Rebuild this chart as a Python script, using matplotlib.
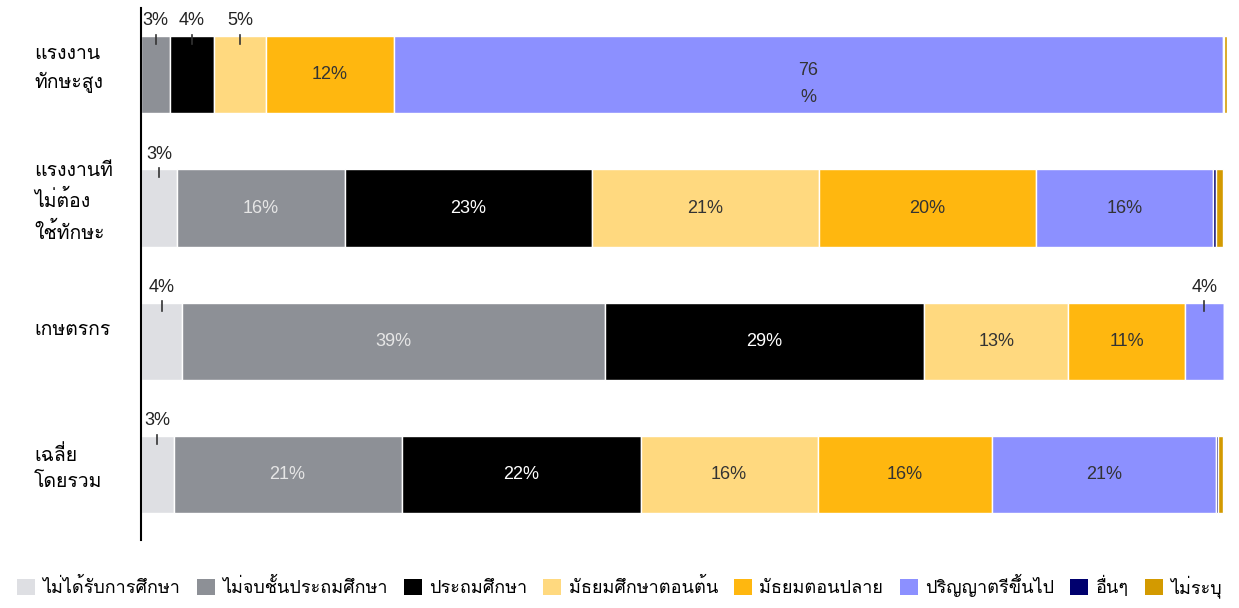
import matplotlib
matplotlib.use("Agg")
import matplotlib.pyplot as plt
from matplotlib import font_manager as fm
from matplotlib.ft2font import FT2Font
from matplotlib.patches import Patch
from matplotlib.transforms import ScaledTranslation

# ---------------- data ----------------
categories = ["แรงงาน\nทักษะสูง", "แรงงานที\nไม่ต้อง\nใช้ทักษะ", "เกษตรกร", "เฉลี่ย\nโดยรวม"]
series_names = ["ไม่ได้รับการศึกษา", "ไม่จบชั้นประถมศึกษา", "ประถมศึกษา", "มัธยมศึกษาตอนต้น",
                "มัธยมตอนปลาย", "ปริญญาตรีขึ้นไป", "อื่นๆ", "ไม่ระบุ"]
no_education = [0.0, 3.3, 3.8, 3.0]
primary_incomplete = [2.7, 15.5, 38.9, 21.0]
primary = [4.0, 22.7, 29.4, 22.0]
lower_secondary = [4.8, 20.9, 13.3, 16.3]
upper_secondary = [11.8, 20.0, 10.7, 16.1]
bachelor_plus = [76.3, 16.3, 3.6, 20.6]
other = [0.1, 0.3, 0.0, 0.2]
unspecified = [0.3, 0.6, 0.0, 0.4]
series_values = [no_education, primary_incomplete, primary, lower_secondary,
                 upper_secondary, bachelor_plus, other, unspecified]

colors = ["#DEDFE3", "#8D9096", "#000000", "#FFD97F", "#FFB70F", "#8C90FF", "#00006E", "#D39A00"]
inside_text_colors = ["#333333", "#E6E6E6", "#FFFFFF", "#333333", "#333333", "#333333", "#FFFFFF", "#333333"]

# ---------------- fonts ----------------
cands = []
for f in fm.fontManager.ttflist:
    try:
        cm = FT2Font(f.fname).get_charmap()
        if 0x0E01 in cm and 0x0E32 in cm:
            cands.append(f.name)
    except Exception:
        pass
thai_font = None
for p in ["Loma", "Tahoma", "Noto Sans Thai Looped", "Noto Sans Thai", "Garuda"]:
    if p in cands:
        thai_font = p
        break
if thai_font is None and cands:
    thai_font = cands[0]
thai_family = ([thai_font] if thai_font else []) + ["DejaVu Sans"]

names = {f.name for f in fm.fontManager.ttflist}
num_family = ["Liberation Sans Narrow"] if "Liberation Sans Narrow" in names else ["Liberation Sans"]

# ---------------- figure ----------------
fig = plt.figure(figsize=(12.39, 6.08), dpi=100)
ax = fig.add_axes([141 / 1239, 1 - 540 / 608, 1086 / 1239, 532 / 608])

y = list(range(len(categories)))
bar_h = 0.58
left = [0.0] * len(categories)
for si, vals in enumerate(series_values):
    ax.barh(y, vals, left=left, height=bar_h, color=colors[si], edgecolor="white",
            linewidth=1.0, label=series_names[si])
    for ci, v in enumerate(vals):
        cx = left[ci] + v / 2
        lab = f"{round(v)}%"
        if v >= 8:
            if v > 60:
                ax.text(cx, y[ci] + 0.07, f"{round(v)}\n%", ha="center", va="center", fontsize=13,
                        color=inside_text_colors[si], family=num_family, linespacing=1.75)
            else:
                ax.text(cx, y[ci], lab, ha="center", va="center", fontsize=13,
                        color=inside_text_colors[si], family=num_family)
        elif v >= 2.5:
            top = y[ci] - bar_h / 2
            ax.plot([cx, cx], [top - 0.01, top + 0.06], color="#333333", lw=1.2)
            ax.text(cx, top - 0.05, lab, ha="center", va="bottom", fontsize=13,
                    color="#222222", family=num_family)
    left = [l + v for l, v in zip(left, vals)]

ax.set_xlim(0, 100)
ax.set_ylim(3.49, -0.5)
for s in ["top", "right", "bottom"]:
    ax.spines[s].set_visible(False)
ax.spines["left"].set_linewidth(1.5)
ax.spines["left"].set_color("#000000")
ax.set_xticks([])
ax.set_yticks(y)
ax.set_yticklabels(categories, family=thai_family, fontsize=14, ha="left", linespacing=1.6)
ax.tick_params(axis="y", length=0, pad=77)
shift = ScaledTranslation(0, 0.13, fig.dpi_scale_trans)
for lbl in ax.get_yticklabels():
    lbl.set_transform(lbl.get_transform() + shift)

handles = [Patch(facecolor=c, edgecolor="none") for c in colors]
fig.legend(handles, series_names, loc="lower center", bbox_to_anchor=(0.5, -0.01), ncol=8,
           frameon=False, handlelength=1.0, handleheight=1.0, handletextpad=0.4,
           columnspacing=0.9, prop={"family": thai_family, "size": 13})

fig.savefig("out.png", dpi=100)
